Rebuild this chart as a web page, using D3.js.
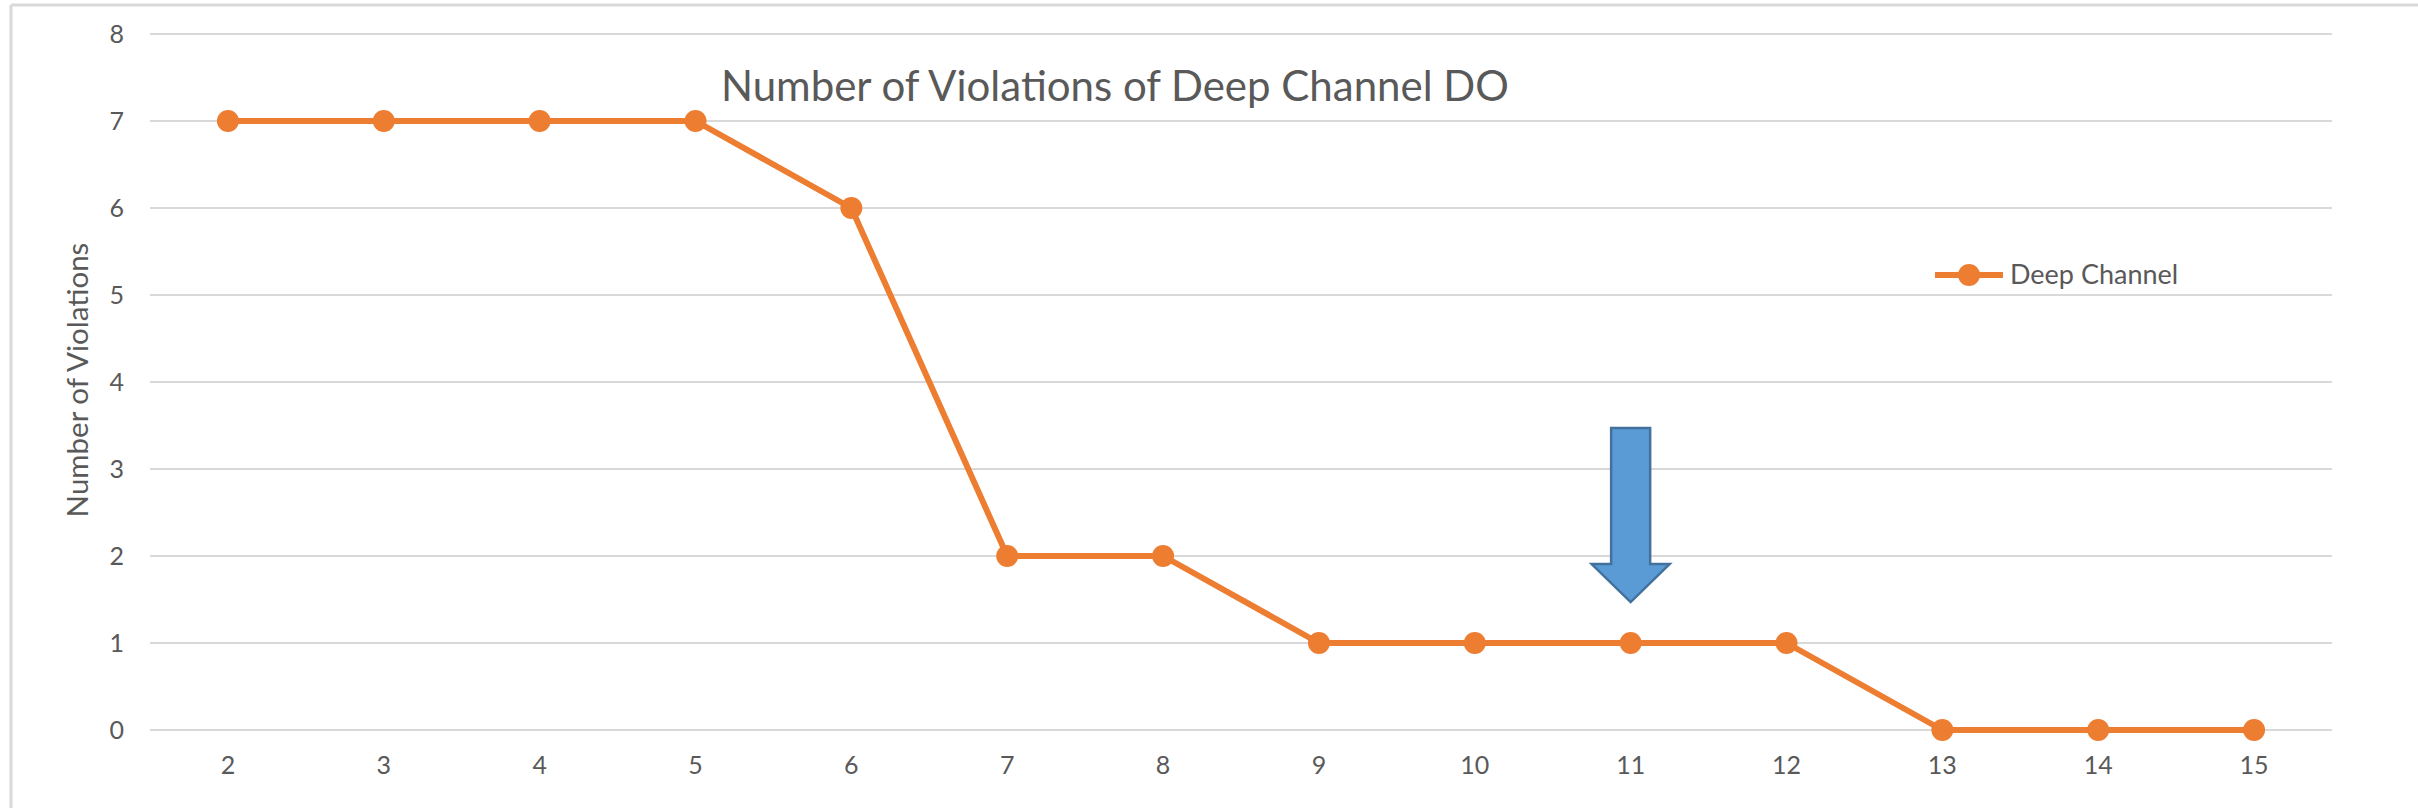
<!DOCTYPE html>
<html>
<head>
<meta charset="utf-8">
<script src="https://cdn.jsdelivr.net/npm/d3@7"></script>
<style>
  html, body { margin: 0; padding: 0; background: #ffffff; }
  svg { display: block; }
  text { font-family: Lato, "Open Sans", sans-serif; fill: #595959; }
</style>
</head>
<body>
<svg id="chart" width="2418" height="808"></svg>
<script>
// ---- data ----
const categories = ["2","3","4","5","6","7","8","9","10","11","12","13","14","15"];
const deepChannel = [7, 7, 7, 7, 6, 2, 2, 1, 1, 1, 1, 0, 0, 0];
const yTicks = [0, 1, 2, 3, 4, 5, 6, 7, 8];
const seriesName = "Deep Channel";
const chartTitle = "Number of Violations of Deep Channel DO";
const yAxisTitle = "Number of Violations";
// annotation arrow (category, top value, tip value)
const arrowCategory = "11";
const arrowTopValue = 3.47;
const arrowTipValue = 1.47;

// ---- layout ----
const W = 2418, H = 808;
const plot = { left: 150, right: 2332, top: 34, bottom: 730 };
const svg = d3.select("#chart");

// chart frame (partial border visible)
svg.append("line").attr("x1", 11).attr("x2", 11).attr("y1", 5).attr("y2", H)
  .attr("stroke", "#d9d9d9").attr("stroke-width", 3);
svg.append("line").attr("x1", 11).attr("x2", W).attr("y1", 5).attr("y2", 5)
  .attr("stroke", "#d9d9d9").attr("stroke-width", 3);

const x = d3.scaleBand().domain(categories).range([plot.left, plot.right]).paddingInner(0).paddingOuter(0);
const xc = d => x(d) + x.bandwidth() / 2;
const y = d3.scaleLinear().domain([0, 8]).range([plot.bottom, plot.top]);

// gridlines
svg.append("g").selectAll("line").data(yTicks).join("line")
  .attr("x1", plot.left).attr("x2", plot.right)
  .attr("y1", d => y(d)).attr("y2", d => y(d))
  .attr("stroke", "#d9d9d9").attr("stroke-width", 2);

// y axis labels
const yAxis = d3.axisLeft(y).tickValues(yTicks).tickSize(0).tickPadding(0).tickFormat(d3.format("d"));
const gy = svg.append("g").attr("transform", `translate(124,0)`).call(yAxis);
gy.select(".domain").remove();
gy.selectAll("text").attr("font-size", 25).style("fill", "#595959")
  .style("font-family", "Lato, 'Open Sans', sans-serif");

// x axis labels
const xAxis = d3.axisBottom(x).tickSize(0).tickPadding(0);
const gx = svg.append("g").attr("transform", `translate(0,${plot.bottom + 26})`).call(xAxis);
gx.select(".domain").remove();
gx.selectAll("text").attr("font-size", 25).style("fill", "#595959")
  .style("font-family", "Lato, 'Open Sans', sans-serif");

// title
svg.append("text").attr("x", 721).attr("y", 101).attr("font-size", 42)
  .text(chartTitle);

// y axis title
svg.append("text").attr("transform", `translate(88,380) rotate(-90)`)
  .attr("text-anchor", "middle").attr("font-size", 29.5).text(yAxisTitle);

// series line
const color = "#ed7d31";
const line = d3.line().x((d, i) => xc(categories[i])).y(d => y(d));
svg.append("path").datum(deepChannel).attr("d", line)
  .attr("fill", "none").attr("stroke", color).attr("stroke-width", 6)
  .attr("stroke-linejoin", "round");
svg.append("g").selectAll("circle").data(deepChannel).join("circle")
  .attr("cx", (d, i) => xc(categories[i])).attr("cy", d => y(d)).attr("r", 11)
  .attr("fill", color);

// legend
const lg = svg.append("g").attr("transform", "translate(1935,275)");
lg.append("line").attr("x1", 0).attr("x2", 68).attr("y1", 0).attr("y2", 0)
  .attr("stroke", color).attr("stroke-width", 6);
lg.append("circle").attr("cx", 34).attr("cy", 0).attr("r", 11).attr("fill", color);
lg.append("text").attr("x", 75).attr("y", 9).attr("font-size", 27).text(seriesName);

// annotation arrow
const ax = xc(arrowCategory);
const yTop = y(arrowTopValue), yTip = y(arrowTipValue);
const shaftHalf = 19.5, headHalf = 39, headLen = 38;
const arrowPts = [
  [ax - shaftHalf, yTop], [ax + shaftHalf, yTop], [ax + shaftHalf, yTip - headLen],
  [ax + headHalf, yTip - headLen], [ax, yTip], [ax - headHalf, yTip - headLen],
  [ax - shaftHalf, yTip - headLen]
];
svg.append("path").attr("d", "M" + arrowPts.map(p => p.join(",")).join("L") + "Z")
  .attr("fill", "#5b9bd5").attr("stroke", "#41719c").attr("stroke-width", 2.5)
  .attr("stroke-linejoin", "miter");
</script>
</body>
</html>
